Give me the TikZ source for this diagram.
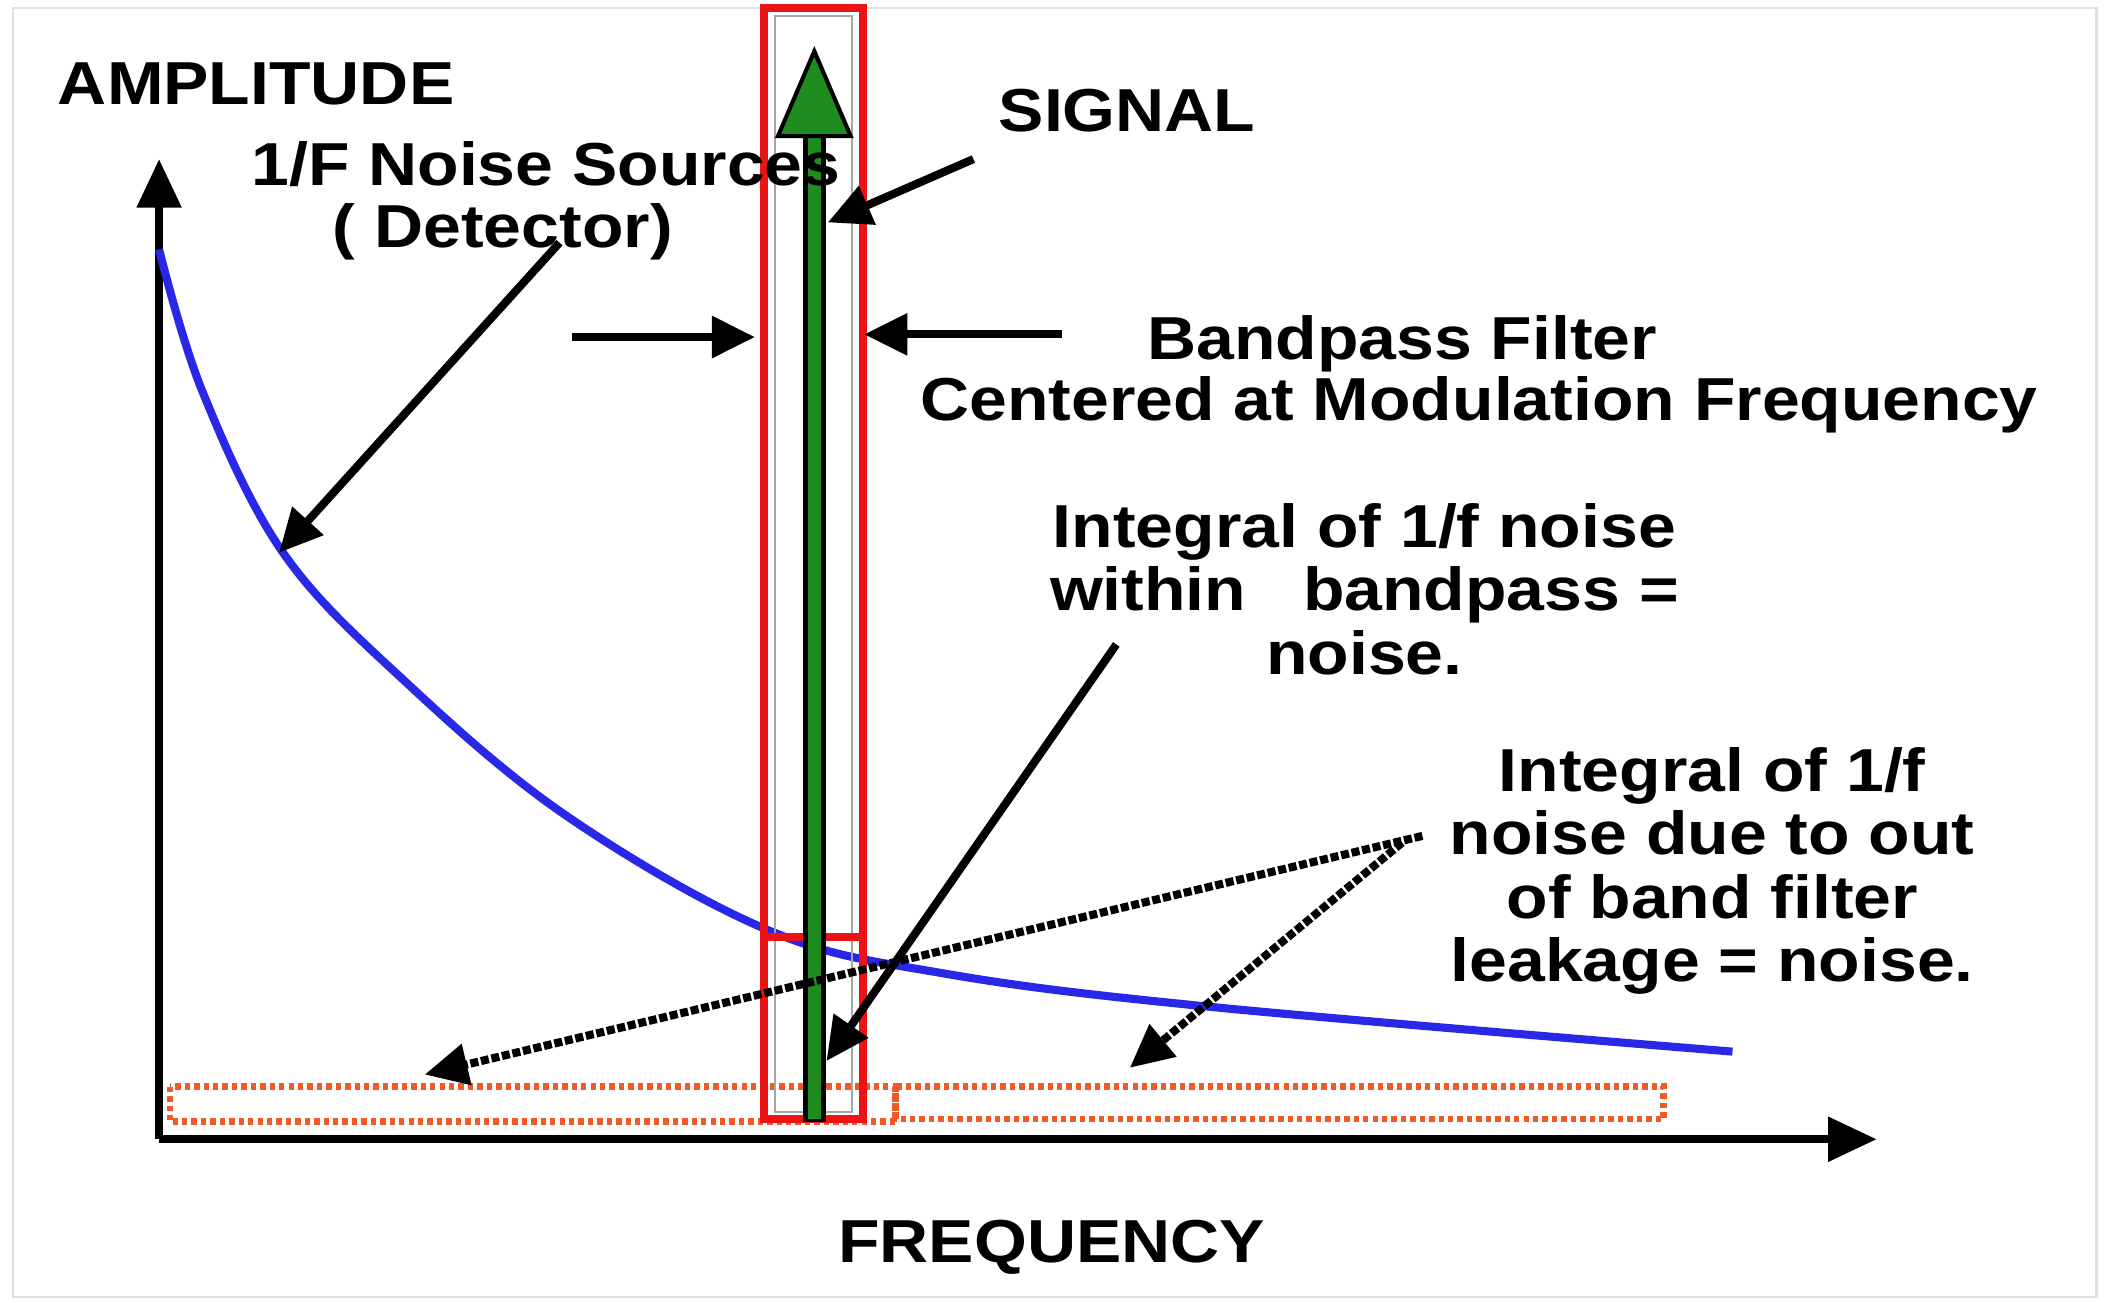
\documentclass[tikz,border=0pt]{standalone}
\usepackage{fontspec}
\setmainfont{Liberation Sans}
\usetikzlibrary{arrows.meta}
\definecolor{sigred}{RGB}{235,20,20}
\definecolor{sigblue}{RGB}{40,40,230}
\definecolor{sigorange}{RGB}{240,90,40}
\definecolor{siggreen}{RGB}{30,140,30}
\begin{document}
\begin{tikzpicture}[x=1pt,y=-1pt,
  lbl/.style={font=\fontsize{45}{47}\selectfont\bfseries,align=center,inner sep=0,xscale=1.12},
  arr/.style={line width=6pt,-{Triangle[length=32pt,width=30pt]}},
  dotarr/.style={line width=6pt,dotted,-{Triangle[length=32pt,width=30pt]}},
  leak/.style={sigorange,line width=5pt,dash pattern=on 4pt off 3pt}]
\useasboundingbox (0,0) rectangle (1568,966);
\draw[black!12,line width=1.5pt] (10,6) rectangle (1555,962);
% axes
\coordinate (O) at (118,845);
\coordinate (ytop) at (118,118);
\coordinate (xend) at (1392,845);
\draw[line width=6pt,-{Triangle[length=36pt,width=32pt]}] (O) -- (ytop);
\draw[line width=6pt,-{Triangle[length=36pt,width=32pt]}] (O) -- (xend);
% leakage boxes
\draw[leak] (126,806) rectangle (664,832);
\draw[leak] (664,806) rectangle (1234,830);
% blue curve
\draw[sigblue,line width=6pt] plot[smooth,tension=0.6] coordinates
 {(118,185) (150,290) (210,410) (300,505) (420,605) (570,690) (700,722) (900,747) (1285,780)};
% red filter box
\draw[black!35,line width=1.5pt] (575,12) rectangle (632,825);
\draw[sigred,line width=6pt] (567,6) rectangle (640,830);
\draw[sigred,line width=6pt] (567,695) -- (640,695);
% green signal arrow
\draw[black,line width=17pt] (604,832) -- (604,96);
\draw[siggreen,line width=10pt] (604,830) -- (604,98);
\draw[black,line width=3pt,fill=siggreen] (577,101) -- (604,38) -- (631,101) -- cycle;
% texts
\node[lbl] (amp) at (190,62) {AMPLITUDE};
\node[lbl] (src) at (405,122) {1/F Noise Sources};
\node[lbl] (det) at (373,172) {( Detector)};
\node[lbl] (sig) at (836,82) {SIGNAL};
\node[lbl] (bp) at (1040,255) {Bandpass Filter};
\node[lbl] (cen) at (1097,300) {Centered at Modulation Frequency};
\node[lbl] (int1) at (1012,437) {Integral of 1/f noise\\within\ \ \ bandpass =\\noise.};
\node[lbl] (int2) at (1270,646) {Integral of 1/f\\noise due to out\\of band filter\\leakage = noise.};
\node[lbl] (freq) at (780,925) {FREQUENCY};
% arrows
\coordinate (a1s) at (415,180); \coordinate (a1e) at (207,410);
\draw[arr] (a1s) -- (a1e);
\coordinate (a2s) at (722,118); \coordinate (a2e) at (614,165);
\draw[arr] (a2s) -- (a2e);
\coordinate (a3s) at (424,250); \coordinate (a3e) at (560,250);
\draw[arr] (a3s) -- (a3e);
\coordinate (a4s) at (788,248); \coordinate (a4e) at (641,248);
\draw[arr] (a4s) -- (a4e);
\coordinate (a5s) at (828,478); \coordinate (a5e) at (613,787);
\draw[arr] (a5s) -- (a5e);
\coordinate (d1s) at (1055,620); \coordinate (d1e) at (315,797);
\draw[dotarr] (d1s) -- (d1e);
\coordinate (d2s) at (1040,625); \coordinate (d2e) at (838,792);
\draw[dotarr] (d2s) -- (d2e);
\end{tikzpicture}
\end{document}
